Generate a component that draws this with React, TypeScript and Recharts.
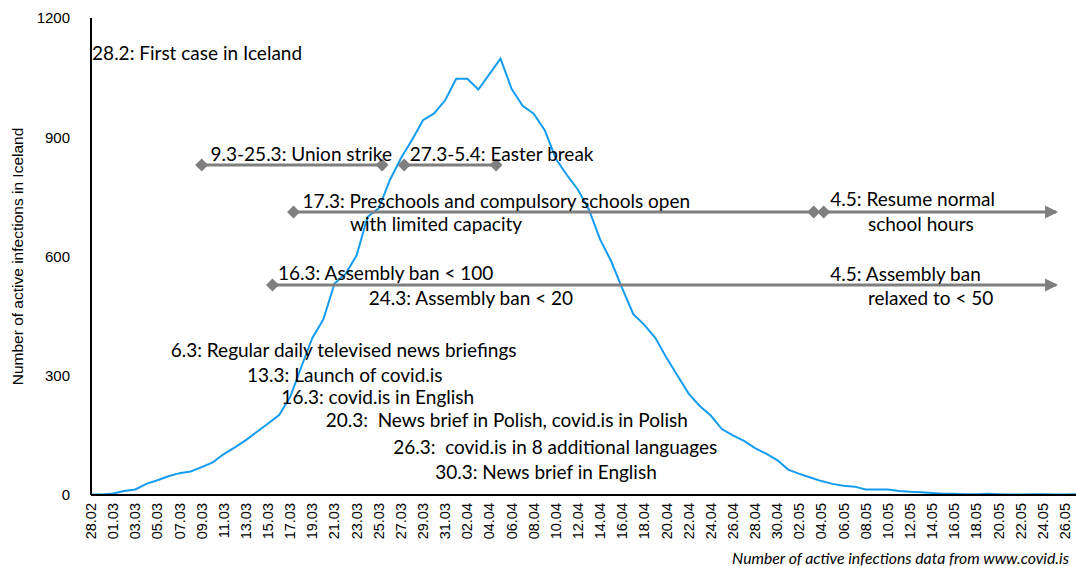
import { LineChart, Line, XAxis, YAxis, ReferenceLine, ReferenceDot } from 'recharts';

// one entry per day, 28.02 - 27.05 (2020)
const days = [
    '28.02', '29.02',
    '01.03', '02.03', '03.03', '04.03', '05.03', '06.03', '07.03', '08.03', '09.03', '10.03',
    '11.03', '12.03', '13.03', '14.03', '15.03', '16.03', '17.03', '18.03', '19.03', '20.03',
    '21.03', '22.03', '23.03', '24.03', '25.03', '26.03', '27.03', '28.03', '29.03', '30.03', '31.03',
    '01.04', '02.04', '03.04', '04.04', '05.04', '06.04', '07.04', '08.04', '09.04', '10.04',
    '11.04', '12.04', '13.04', '14.04', '15.04', '16.04', '17.04', '18.04', '19.04', '20.04',
    '21.04', '22.04', '23.04', '24.04', '25.04', '26.04', '27.04', '28.04', '29.04', '30.04',
    '01.05', '02.05', '03.05', '04.05', '05.05', '06.05', '07.05', '08.05', '09.05', '10.05',
    '11.05', '12.05', '13.05', '14.05', '15.05', '16.05', '17.05', '18.05', '19.05', '20.05',
    '21.05', '22.05', '23.05', '24.05', '25.05', '26.05', '27.05',
];

const activeCases = [
    1, 1,
    4, 10, 14, 28, 37, 47, 55, 59, 70, 82,
    103, 120, 138, 159, 180, 201, 247, 322, 395, 442,
    532, 556, 603, 700, 721, 792, 847, 893, 943, 960, 993,
    1047, 1047, 1020, 1059, 1098, 1022, 979, 959, 918, 846,
    805, 768, 717, 643, 588, 520, 455, 428, 395, 345,
    300, 255, 224, 200, 166, 150, 136, 118, 104, 88,
    64, 53, 44, 35, 28, 23, 21, 14, 14, 14,
    10, 8, 7, 5, 3, 3, 2, 2, 3, 2,
    1, 1, 2, 2, 1, 1, 2,
];

const yTicks = [0, 300, 600, 900, 1200];

// horizontal period markers: day index (0 = 28.02), level in cases
const spans = [
    { from: 10, to: 26.3, level: 830, end: 'diamond' },
    { from: 28.3, to: 36.6, level: 830, end: 'diamond' },
    { from: 18.3, to: 65.3, level: 712, end: 'diamond' },
    { from: 66.2, to: 87.2, level: 712, end: 'arrow' },
    { from: 16.4, to: 87.2, level: 528, end: 'arrow' },
];

// event notes: left edge at day index, vertical centre at level
const notes = [
    { at: 0.1, level: 1112, text: '28.2: First case in Iceland' },
    { at: 10.8, level: 860, text: '9.3-25.3: Union strike' },
    { at: 28.8, level: 860, text: '27.3-5.4: Easter break' },
    { at: 19.1, level: 742, text: '17.3: Preschools and compulsory schools open' },
    { at: 23.4, level: 682, text: 'with limited capacity' },
    { at: 66.8, level: 747, text: '4.5: Resume normal' },
    { at: 70.2, level: 684, text: 'school hours' },
    { at: 16.9, level: 561, text: '16.3: Assembly ban < 100' },
    { at: 25.1, level: 496, text: '24.3: Assembly ban < 20' },
    { at: 66.8, level: 558, text: '4.5: Assembly ban' },
    { at: 70.2, level: 496, text: 'relaxed to < 50' },
    { at: 7.2, level: 367, text: '6.3: Regular daily televised news briefings' },
    { at: 14.1, level: 304, text: '13.3: Launch of covid.is' },
    { at: 17.2, level: 249, text: '16.3: covid.is in English' },
    { at: 21.2, level: 189, text: '20.3:  News brief in Polish, covid.is in Polish' },
    { at: 27.3, level: 123, text: '26.3:  covid.is in 8 additional languages' },
    { at: 31.1, level: 60, text: '30.3: News brief in English' },
];

const chartData = days.map((day, i) => ({ idx: i, day, active: activeCases[i] }));
const xTicks = chartData.filter(d => d.idx % 2 === 0).map(d => d.idx);

const GREY = '#7f7f7f';
const NOTE_FONT = 'Lato, "Open Sans", sans-serif';
const AXIS_FONT = '"Liberation Sans", Arial, sans-serif';

const DayTick = (props: any) => {
    const { x, y, payload } = props;
    return (
        <text
            x={x}
            y={y}
            transform={`rotate(-90 ${x} ${y})`}
            textAnchor="end"
            dominantBaseline="central"
            fontSize={14.5}
            fontFamily={AXIS_FONT}
            fill="#000"
        >
            {days[payload.value]}
        </text>
    );
};

const diamond = (p: any) => (
    <polygon
        points={`${p.cx - 6.5},${p.cy} ${p.cx},${p.cy - 6.5} ${p.cx + 6.5},${p.cy} ${p.cx},${p.cy + 6.5}`}
        fill={GREY}
    />
);

const arrow = (p: any) => (
    <polygon
        points={`${p.cx + 2},${p.cy} ${p.cx - 11},${p.cy - 6.5} ${p.cx - 11},${p.cy + 6.5}`}
        fill={GREY}
    />
);

const noteShape = (text: string) => (p: any) => (
    <text
        x={p.cx}
        y={p.cy}
        dominantBaseline="central"
        fontSize={19}
        fontFamily={NOTE_FONT}
        fill="#000"
        style={{ whiteSpace: 'pre' }}
    >
        {text}
    </text>
);

export default function App() {
    return (
        <div style={{ width: 1076, height: 566, background: '#fff' }}>
            <style>{'body{margin:0;}'}</style>
            <LineChart
                width={1076}
                height={566}
                data={chartData}
                margin={{ top: 18, right: 0, left: 0, bottom: 0 }}
            >
                <XAxis
                    dataKey="idx"
                    type="number"
                    domain={[0, 89]}
                    ticks={xTicks}
                    interval={0}
                    height={71}
                    tickLine={false}
                    tickSize={0}
                    tickMargin={8}
                    axisLine={{ stroke: '#000', strokeWidth: 2 }}
                    tick={<DayTick />}
                    label={{
                        content: (props: any) => {
                            const vb = props.viewBox;
                            return (
                                <text
                                    x={vb.x + vb.width - 7}
                                    y={vb.y + 62}
                                    textAnchor="end"
                                    dominantBaseline="central"
                                    fontSize={15.8}
                                    fontStyle="italic"
                                    fontFamily={NOTE_FONT}
                                    fill="#000"
                                >
                                    Number of active infections data from www.covid.is
                                </text>
                            );
                        },
                    }}
                />
                <YAxis
                    domain={[0, 1200]}
                    ticks={yTicks}
                    width={91}
                    tickLine={false}
                    tickSize={0}
                    tickMargin={21}
                    axisLine={{ stroke: '#000', strokeWidth: 2 }}
                    tick={{ fill: '#000', fontSize: 15, fontFamily: AXIS_FONT }}
                    label={{
                        content: (props: any) => {
                            const vb = props.viewBox;
                            const cy = vb.y + vb.height / 2;
                            return (
                                <text
                                    x={17}
                                    y={cy}
                                    transform={`rotate(-90 17 ${cy})`}
                                    textAnchor="middle"
                                    dominantBaseline="central"
                                    fontSize={15.5}
                                    fontFamily={AXIS_FONT}
                                    fill="#000"
                                >
                                    Number of active infections in Iceland
                                </text>
                            );
                        },
                    }}
                />
                <Line
                    type="linear"
                    dataKey="active"
                    stroke="#149cf0"
                    strokeWidth={2}
                    dot={false}
                    isAnimationActive={false}
                />
                {spans.map((s, i) => (
                    <ReferenceLine
                        key={`span-${i}`}
                        segment={[{ x: s.from, y: s.level }, { x: s.to, y: s.level }]}
                        stroke={GREY}
                        strokeWidth={3}
                    />
                ))}
                {spans.map((s, i) => (
                    <ReferenceDot key={`start-${i}`} x={s.from} y={s.level} r={6} shape={diamond} />
                ))}
                {spans.map((s, i) => (
                    <ReferenceDot
                        key={`end-${i}`}
                        x={s.to}
                        y={s.level}
                        r={6}
                        shape={s.end === 'arrow' ? arrow : diamond}
                    />
                ))}
                {notes.map((n, i) => (
                    <ReferenceDot key={`note-${i}`} x={n.at} y={n.level} r={1} shape={noteShape(n.text)} />
                ))}
            </LineChart>
        </div>
    );
}
